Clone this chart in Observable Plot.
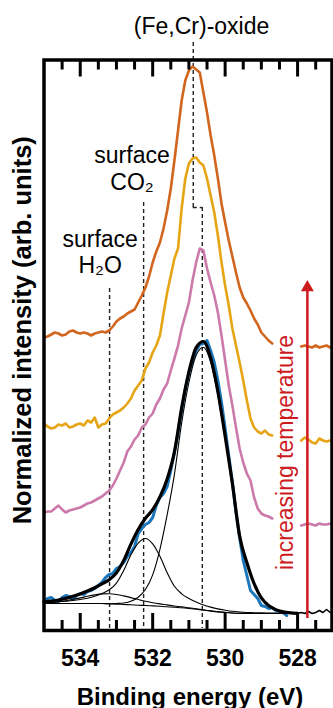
<!DOCTYPE html>
<html><head><meta charset="utf-8">
<script src="https://cdn.jsdelivr.net/npm/d3@7"></script>
<script src="https://cdn.jsdelivr.net/npm/@observablehq/plot@0.6"></script>
<style>body{margin:0;background:#fff} svg{display:block}</style>
</head><body><div id="chart"></div>
<script>
// ---- data (binding energy in eV, intensity in arb. units) ----
const spectrumEnergy = [535.0,534.9,534.8,534.7,534.6,534.5,534.4,534.3,534.2,534.1,534.0,533.9,533.8,533.7,533.6,533.5,533.4,533.3,533.2,533.1,533.0,532.9,532.8,532.7,532.6,532.5,532.4,532.3,532.2,532.1,532.0,531.9,531.8,531.7,531.6,531.5,531.4,531.3,531.2,531.1,531.0,530.9,530.8,530.7,530.6,530.5,530.4,530.3,530.2,530.1,530.0,529.9,529.8,529.7,529.6,529.5,529.4,529.3,529.2,529.1,529.0,528.9,528.8,528.7,528.6,528.5,528.4,528.3];
const orangeSpectrum = [293,294,296,298,297,295,296,299,300,298,297,298,297,295,297,298,299,298,
  300,304,309,312,314,317,319,321,328,335,343,354,368,379,388,402,420,442,470,500,530,550,
  560,564,561,558,538,518,495,475,452,427,408,390,374,358,343,333,327,320,312,306,298,294,290,287];
const amberSpectrum = [207,204,202,203,206,205,207,203,204,206,207,205,210,208,213,203,206,207,
  212,216,218,220,223,227,232,240,245,250,262,268,278,285,295,317,338,355,372,382,422,452,
  467,472,473,468,465,452,435,418,395,368,345,325,302,285,268,250,230,212,203,199,197,200,196,195];
const pinkSpectrum = [118,119,119,122,125,121,118,120,121,122,123,125,127,128,130,132,134,137,
  140,145,152,160,168,179,184,191,195,203,206,213,217,226,232,241,247,260,272,285,302,315,
  328,350,368,382,380,362,348,335,318,295,270,245,225,203,182,168,157,150,133,122,117,115,114,112];
const blueSpectrum = [29,32,33,30,29,33,35,34,31,35,37,36,39,40,42,45,48,53,56,57,
  62,64,68,74,78,84,97,102,106,108,113,125,133,137,144,160,178,198,220,242,
  258,270,280,286,287,290,280,268,250,228,202,175,148,118,93,70,55,40,36,32,25,24,22,23,20,19,18,15];

const tailEnergy = [527.9,527.8,527.7,527.6,527.5,527.4,527.3,527.2,527.1,527.0];
const orangeTail = [284,285,284,283,285,283,284,285,283,283];
const amberTail  = [190,193,191,188,187,192,190,189,190,189];
const pinkTail   = [105,106,107,106,105,107,106,106,107,106];
const blackTail  = [18,17,19,17,18,20,18,21,18,19];

const componentEnergy = [535.0,534.8,534.6,534.4,534.2,534.0,533.8,533.6,533.4,533.2,533.0,532.8,532.6,532.4,532.2,532.0,531.8,531.6,531.4,531.2,531.0,530.8,530.6,530.4,530.2,530.0,529.8,529.6,529.4,529.2,529.0,528.8,528.6,528.4,528.2,528.0];
const background   = [27,27,27,27,27,27,27,27,27,26.7,26.4,26,25.7,25.3,25,24.6,24.2,23.8,23.2,22.7,22,21.2,20.3,19.4,18.6,18,17.5,17.2,17,17,17,17,17,17,17,17];
const h2oComponent = [27.5,28,28.8,29.8,31.2,32.6,34.2,35.6,36.6,36.7,36.0,34.6,32.9,31.0,29.3,27.8,26.6,25.6,24.5,23.7,22.7,21.7,20.7,19.7,18.8,18.1,17.5,17.2,17,17,17,17,17,17,17,17];
const co2Component = [28,28.3,28.7,29.3,30,31,32.3,34.2,37,40.7,47.4,60,75.7,87.3,92,86.6,74.2,57.8,44.2,36.7,32,28.4,25.6,23.4,21.6,20.3,19.2,18.5,18,17.8,17.6,17.5,17.4,17.3,17.2,17.2];
const oxideComponent = [27,27,27,27,27,27,27,27,27,26.7,27,27.5,29.2,33.3,41,55.6,81.2,115.8,156.2,207.7,248,275.2,283.3,268.4,235.6,192,145.5,93.2,67,46,32,24.5,20.5,18.5,17.5,17];
const fitEnvelope = [28.5,29.3,30.5,32.1,34.2,36.6,39.5,42.8,46.6,50.7,57.6,70.1,86.4,101,112.3,120.8,133.6,151.6,178.5,222.7,258.7,282.9,289,272.7,238.8,194.4,147.2,94.5,68,46.8,32.6,25,20.9,18.8,17.7,17.2];

const majorTicks = [534, 532, 530, 528];
const minorTicks = [534.5, 533.5, 533, 532.5, 531.5, 531, 530.5, 529.5, 529, 528.5, 527.5];

const peakEnergy = [533.19, 532.25, 530.63];   // surface H2O, surface CO2, (Fe,Cr)-oxide
const oxideLabelEnergy = 530.88;
const labels = ["(Fe,Cr)-oxide", "surface\nCO\u2082", "surface\nH\u2082O", "increasing temperature"];
const axisTitles = ["Binding energy (eV)", "Normalized intensity (arb. units)"];

// ---- build tables ----
const series = (E, V) => V.map((v, i) => ({E: E[i], I: v}));
const red = "#cc1a1f";
const colors = {orange: "#d2661e", amber: "#e6a515", pink: "#cc79ab", blue: "#1b77ba"};
const fh = 708 - 59.5 - 78;

const guides = [
  {E: peakEnergy[0], top: 342, bottom: 2},
  {E: peakEnergy[1], top: 428, bottom: 2},
  {E: peakEnergy[2], top: 423, bottom: 2},
  {E: oxideLabelEnergy, top: 588, bottom: 423}
];
const dash = {stroke: "#222", strokeWidth: 1.4, strokeDasharray: "4,3"};

const blackBottom = [{E: componentEnergy[componentEnergy.length-1], I: fitEnvelope[fitEnvelope.length-1]}].concat(series(tailEnergy, blackTail));

const chart = Plot.plot({
  width: 333, height: 708,
  marginLeft: 43.5, marginRight: 1.5, marginTop: 59.5, marginBottom: 78,
  x: {domain: [535, 527.05], axis: null},
  y: {domain: [0, 570.5], axis: null},
  style: {fontFamily: "Liberation Sans, Arial, sans-serif", background: "white", color: "black"},
  marks: [
    // guides
    Plot.ruleX(guides, {x: "E", y1: "top", y2: "bottom", ...dash}),
    Plot.ruleY([423], {y: d => d, x1: oxideLabelEnergy, x2: peakEnergy[2], ...dash}),
    // stacked spectra
    Plot.line(series(spectrumEnergy, orangeSpectrum), {x: "E", y: "I", stroke: colors.orange, strokeWidth: 2.6}),
    Plot.line(series(tailEnergy, orangeTail), {x: "E", y: "I", stroke: colors.orange, strokeWidth: 2.6}),
    Plot.line(series(spectrumEnergy, amberSpectrum), {x: "E", y: "I", stroke: colors.amber, strokeWidth: 2.6}),
    Plot.line(series(tailEnergy, amberTail), {x: "E", y: "I", stroke: colors.amber, strokeWidth: 2.6}),
    Plot.line(series(spectrumEnergy, pinkSpectrum), {x: "E", y: "I", stroke: colors.pink, strokeWidth: 2.6}),
    Plot.line(series(tailEnergy, pinkTail), {x: "E", y: "I", stroke: colors.pink, strokeWidth: 2.6}),
    Plot.line(series(spectrumEnergy, blueSpectrum), {x: "E", y: "I", stroke: colors.blue, strokeWidth: 3}),
    // fit components
    Plot.line(series(componentEnergy, background), {x: "E", y: "I", stroke: "black", strokeWidth: 1.1, curve: "monotone-x"}),
    Plot.line(series(componentEnergy, h2oComponent), {x: "E", y: "I", stroke: "black", strokeWidth: 1.1, curve: "monotone-x"}),
    Plot.line(series(componentEnergy, co2Component), {x: "E", y: "I", stroke: "black", strokeWidth: 1.1, curve: "monotone-x"}),
    Plot.line(series(componentEnergy, oxideComponent), {x: "E", y: "I", stroke: "black", strokeWidth: 1.1, curve: "monotone-x"}),
    Plot.line(series(componentEnergy, fitEnvelope), {x: "E", y: "I", stroke: "black", strokeWidth: 3.2, curve: "monotone-x"}),
    Plot.line(blackBottom, {x: "E", y: "I", stroke: "black", strokeWidth: 1.6}),
    // arrow
    Plot.ruleX([527.73], {x: d => d, y1: 12, y2: 340, stroke: red, strokeWidth: 2.5}),
    Plot.dot([527.73], {x: d => d, y: 343, symbol: "triangle", r: 4.8, fill: red, stroke: "none"}),
    Plot.text([labels[3]], {x: 528.33, y: 178, rotate: -90, fill: red, fontSize: 23, lineAnchor: "middle", textAnchor: "middle"}),
    // annotations
    Plot.text([labels[0]], {x: 530.65, y: 597, fontSize: 23, lineAnchor: "bottom", textAnchor: "middle"}),
    Plot.text([labels[1]], {x: 532.57, y: 441, fontSize: 23, lineAnchor: "bottom", lineHeight: 1.17, textAnchor: "middle"}),
    Plot.text([labels[2]], {x: 533.45, y: 358, fontSize: 23, lineAnchor: "bottom", lineHeight: 1.1, textAnchor: "middle"}),
    // ticks (inward)
    Plot.tickX(majorTicks, {x: d => d, insetTop: fh - 17, stroke: "black", strokeWidth: 3}),
    Plot.tickX(majorTicks, {x: d => d, insetBottom: fh - 17, stroke: "black", strokeWidth: 3}),
    Plot.tickX(minorTicks, {x: d => d, insetTop: fh - 10, stroke: "black", strokeWidth: 3}),
    Plot.tickX(minorTicks, {x: d => d, insetBottom: fh - 10, stroke: "black", strokeWidth: 3}),
    Plot.axisX(majorTicks, {anchor: "bottom", tickSize: 0, tickPadding: 19, fontSize: 23, fontWeight: "bold", label: null}),
    Plot.text([axisTitles[0]], {frameAnchor: "bottom", dy: 74, dx: 2, fontSize: 24, fontWeight: "bold", lineAnchor: "bottom"}),
    Plot.text([axisTitles[1]], {frameAnchor: "left", rotate: -90, dx: -21, dy: -15, fontSize: 25.5, fontWeight: "bold", lineAnchor: "middle", textAnchor: "middle"}),
    Plot.frame({stroke: "black", strokeWidth: 3.5})
  ]
});
document.getElementById("chart").append(chart);
</script>
</body></html>
